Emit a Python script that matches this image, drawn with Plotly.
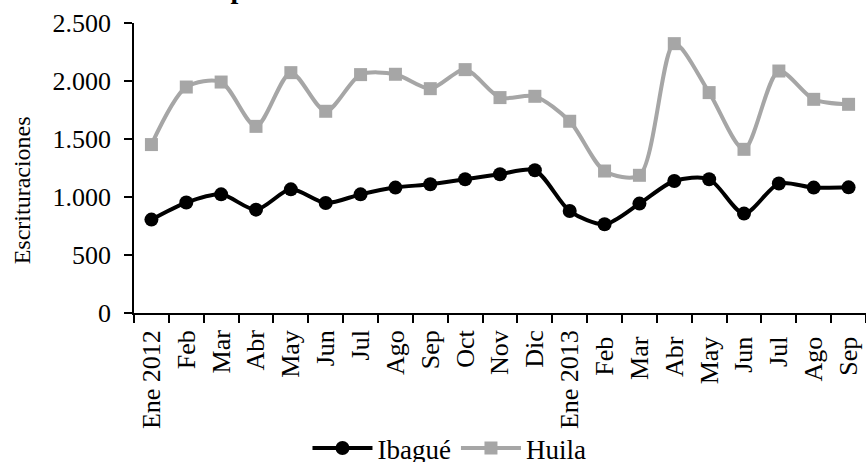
import plotly.graph_objects as go

meses = ["Ene 2012", "Feb", "Mar", "Abr", "May", "Jun", "Jul", "Ago", "Sep", "Oct", "Nov", "Dic",
         "Ene 2013", "Feb ", "Mar ", "Abr ", "May ", "Jun ", "Jul ", "Ago ", "Sep "]
ibague = [805, 952, 1023, 891, 1066, 948, 1023, 1081, 1110, 1153, 1196, 1230,
          879, 765, 943, 1138, 1153, 857, 1116, 1081, 1083]
huila = [1452, 1948, 1991, 1609, 2072, 1739, 2055, 2058, 1934, 2098, 1857, 1868,
         1653, 1224, 1187, 2322, 1900, 1411, 2086, 1842, 1799]

font_fam = "Liberation Serif, Times New Roman, serif"

fig = go.Figure()
fig.add_trace(go.Scatter(
    x=meses, y=ibague, name="Ibagué", mode="lines+markers",
    line=dict(color="#000000", width=4, shape="spline", smoothing=0.8),
    marker=dict(symbol="circle", size=14, color="#000000"),
))
fig.add_trace(go.Scatter(
    x=meses, y=huila, name="Huila", mode="lines+markers",
    line=dict(color="#A6A6A6", width=4, shape="spline", smoothing=0.8),
    marker=dict(symbol="square", size=13, color="#A6A6A6"),
))

fig.update_layout(
    width=866, height=462,
    margin=dict(l=134, r=0, t=23, b=149, autoexpand=False),
    paper_bgcolor="white", plot_bgcolor="white",
    font=dict(family=font_fam, color="#000000", size=24),
    showlegend=True,
    legend=dict(orientation="h", x=0.237, xanchor="left", y=-0.467, yanchor="middle",
                font=dict(size=27), itemwidth=60, bgcolor="rgba(0,0,0,0)",
                tracegroupgap=0),
    xaxis=dict(
        type="category", range=[-0.5, 20.5], tickangle=-90, automargin=False,
        showline=True, linecolor="#000000", linewidth=1.5,
        ticks="outside", ticklen=8, tickcolor="#000000", tickwidth=1.5,
        ticklabelstandoff=5,
        tickson="boundaries", showgrid=False, zeroline=False,
        tickfont=dict(size=26),
    ),
    yaxis=dict(
        range=[0, 2500], tickvals=[0, 500, 1000, 1500, 2000, 2500],
        ticktext=["0", "500", "1.000", "1.500", "2.000", "2.500"], automargin=False,
        showline=True, linecolor="#000000", linewidth=1.5,
        ticks="outside", ticklen=8, tickcolor="#000000", tickwidth=1.5,
        ticklabelstandoff=8,
        showgrid=False, zeroline=False, tickfont=dict(size=26),
    ),
    annotations=[
        dict(text="<b>Enero 2012 – Septiembre 2013</b>", xref="paper", yref="paper",
             x=0.1175, y=1.058, xanchor="center", yanchor="bottom", showarrow=False,
             font=dict(size=28, family=font_fam)),
        dict(text="Escrituraciones", xref="paper", yref="paper", textangle=-90,
             x=-0.153, y=0.423, xanchor="center", yanchor="middle", showarrow=False,
             font=dict(size=24, family=font_fam)),
    ],
)

fig.write_html("out.html", config={"displayModeBar": False},
               post_script="document.body.style.margin='0';document.body.style.overflow='hidden';")
